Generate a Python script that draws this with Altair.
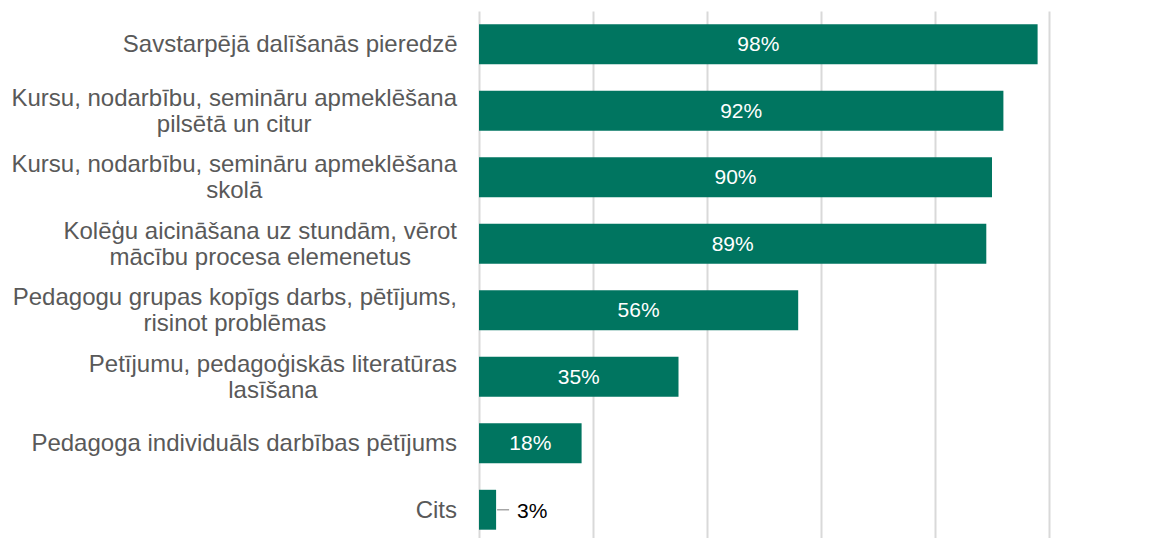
import altair as alt
import pandas as pd

categories = [
    "Savstarpējā dalīšanās pieredzē",
    "Kursu, nodarbību, semināru apmeklēšana\npilsētā un citur",
    "Kursu, nodarbību, semināru apmeklēšana\nskolā",
    "Kolēģu aicināšana uz stundām, vērot\nmācību procesa elemenetus",
    "Pedagogu grupas kopīgs darbs, pētījums,\nrisinot problēmas",
    "Petījumu, pedagoģiskās literatūras\nlasīšana",
    "Pedagoga individuāls darbības pētījums",
    "Cits",
]
values = [0.98, 0.92, 0.90, 0.89, 0.56, 0.35, 0.18, 0.03]
labels = ["98%", "92%", "90%", "89%", "56%", "35%", "18%", "3%"]

FONT = "Liberation Sans"
GREEN = "#007560"
LABEL_SIZE = 24
LINE_H = 26
PLOT_W = 570
GAP = 22

# Arial / Liberation Sans advance widths (per 1000 em)
_W = {
    "a": 556, "b": 556, "c": 500, "d": 556, "e": 556, "f": 278, "g": 556, "h": 556,
    "i": 222, "j": 222, "k": 500, "l": 222, "m": 833, "n": 556, "o": 556, "p": 556,
    "q": 556, "r": 333, "s": 500, "t": 278, "u": 556, "v": 500, "w": 722, "x": 500,
    "y": 500, "z": 500, "K": 667, "S": 611, "P": 667, "C": 722, " ": 278, ",": 278,
    ".": 278, "ā": 556, "ē": 556, "ī": 278, "ū": 556, "š": 500, "ģ": 556, "ņ": 556,
    "ķ": 500, "ļ": 222,
}


def text_width(s, size):
    return sum(_W.get(ch, 556) for ch in s) * size / 1000.0


df = pd.DataFrame({"cat": categories, "val": values, "lab": labels})
inside = df[df["val"] >= 0.1]
outside = df[df["val"] < 0.1]

rows = []
for c in categories:
    lines = c.split("\n")
    block_w = max(text_width(l, LABEL_SIZE) for l in lines)
    pos = -(GAP + block_w / 2.0) / PLOT_W
    for i, l in enumerate(lines):
        rows.append({"cat": c, "line": l, "idx": i, "n": len(lines), "pos": pos})
lab_df = pd.DataFrame(rows)

y = alt.Y("cat:N", sort=categories, title=None,
          scale=alt.Scale(paddingInner=0.4, paddingOuter=0.2),
          axis=None)
xscale = alt.Scale(domain=[0, 1], nice=False)
x = alt.X("val:Q", title=None, scale=xscale,
          axis=alt.Axis(values=[0, 0.2, 0.4, 0.6, 0.8, 1.0], labels=False, ticks=False,
                        domain=False, grid=True, gridColor="#d9d9d9", gridWidth=2))

bars = alt.Chart(df).mark_bar(color=GREEN).encode(x=x, y=y)


def cat_layer(n, idx, dy):
    sub = lab_df[(lab_df["n"] == n) & (lab_df["idx"] == idx)]
    return alt.Chart(sub).mark_text(align="center", baseline="middle", font=FONT,
                                    fontSize=LABEL_SIZE, color="#595959", dy=dy).encode(
        y=y, x=alt.X("pos:Q", scale=xscale), text="line:N")


cat_layers = [cat_layer(1, 0, 1), cat_layer(2, 0, 1 - LINE_H / 2), cat_layer(2, 1, 1 + LINE_H / 2)]

in_text = alt.Chart(inside).mark_text(align="center", baseline="middle", font=FONT,
                                      fontSize=21, color="white", dy=1).encode(
    y=y, x=alt.X("mid:Q", scale=xscale), text="lab:N").transform_calculate(mid="datum.val/2")

leader = alt.Chart(outside).mark_rule(color="#a6a6a6", strokeWidth=1.5,
                                      xOffset=1, x2Offset=13).encode(
    y=y, x=alt.X("val:Q", scale=xscale), x2="val:Q")

out_text = alt.Chart(outside).mark_text(align="left", baseline="middle", font=FONT,
                                        fontSize=21, color="black", dx=21, dy=2).encode(
    y=y, x=alt.X("val:Q", scale=xscale), text="lab:N")

chart = alt.layer(bars, *cat_layers, in_text, leader, out_text).properties(
    width=PLOT_W, height=532,
    autosize=alt.AutoSizeParams(type="none"),
    padding={"left": 471, "top": 3, "right": 10, "bottom": 0},
).configure_view(stroke=None)

chart.save("out.html", embed_options={"renderer": "svg", "actions": False})
